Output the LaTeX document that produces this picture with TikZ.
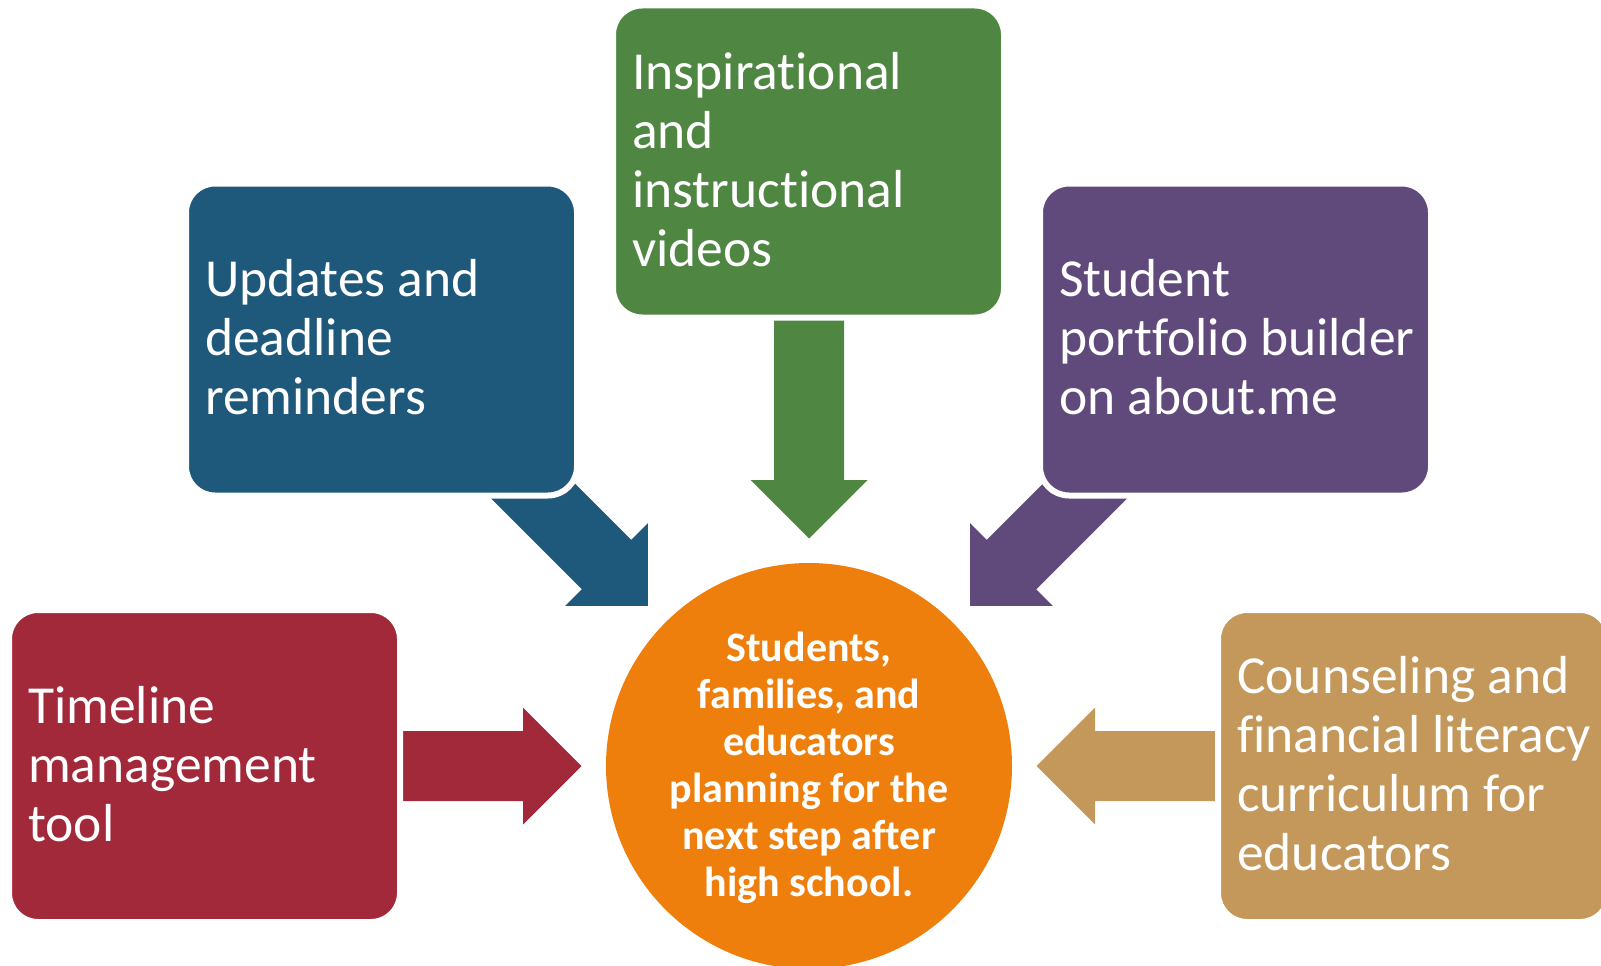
\documentclass[tikz,border=0pt]{standalone}
\usepackage{fontspec}
\setmainfont{Carlito}[RawFeature={-liga}]
\definecolor{cRed}{RGB}{162,41,58}
\definecolor{cBlue}{RGB}{30,88,122}
\definecolor{cGreen}{RGB}{78,134,66}
\definecolor{cPurple}{RGB}{96,74,123}
\definecolor{cTan}{RGB}{195,152,90}
\definecolor{cOrange}{RGB}{238,127,12}
\begin{document}
\begin{tikzpicture}[x=1pt,y=-1pt,
  blockarrow/.pic={\fill[#1] (-170,-35) -- (0,-35) -- (0,-58.5) -- (58.5,0) -- (0,58.5) -- (0,35) -- (-170,35) -- cycle;},
  infobox/.style={rectangle, rounded corners=29pt, draw=white, line width=6pt,
    fill=#1, minimum width=391pt, minimum height=312pt, inner sep=0pt},
  boxtext/.style={anchor=west, align=left, text=white, inner sep=0pt,
    font=\fontsize{53.5}{59}\selectfont},
  hubstyle/.style={circle, fill=cOrange, minimum size=406pt, inner sep=0pt,
    text=white, align=center, font=\fontsize{42}{47}\selectfont\bfseries}]
\clip (0,0) rectangle (1601,966);
\fill[white] (0,0) rectangle (1601,966);
% arrows
\pic at (809,480) [rotate=-90] {blockarrow=cGreen};
\pic at (523,766) {blockarrow=cRed};
\pic at (1095,766) [rotate=180] {blockarrow=cTan};
\pic at (606.6,564.6) [rotate=-45] {blockarrow=cBlue};
\pic at (1011.4,564.6) [rotate=-135] {blockarrow=cPurple};
% boxes
\node[infobox=cRed] (timeline) at (204.5,766) {};
\node[infobox=cBlue] (updates) at (381.5,339.5) {};
\node[infobox=cGreen] (videos) at (808.5,161.5) {};
\node[infobox=cPurple] (portfolio) at (1235.5,339.5) {};
\node[infobox=cTan] (counsel) at (1413.5,766) {};
\node[boxtext] (timelineT) at ([xshift=22pt,yshift=2pt]timeline.west) {Timeline\\management\\tool};
\node[boxtext] (updatesT) at ([xshift=22pt,yshift=2pt]updates.west) {Updates and\\deadline\\reminders};
\node[boxtext] (videosT) at ([xshift=22pt,yshift=2pt]videos.west) {Inspirational\\and\\instructional\\videos};
\node[boxtext] (portfolioT) at ([xshift=22pt,yshift=2pt]portfolio.west) {Student\\portfolio builder\\on about.me};
\node[boxtext] (counselT) at ([xshift=22pt,yshift=2pt]counsel.west) {Counseling and\\financial literacy\\curriculum for\\educators};
% hub
\node[hubstyle] (hub) at (809,766) {};
\node[text=white, align=center, inner sep=0pt, font=\fontsize{42}{47}\selectfont\bfseries] (hubT) at ([yshift=-2pt]hub.center) {Students,\\families, and\\educators\\planning for the\\next step after\\high school.};
\end{tikzpicture}
\end{document}
